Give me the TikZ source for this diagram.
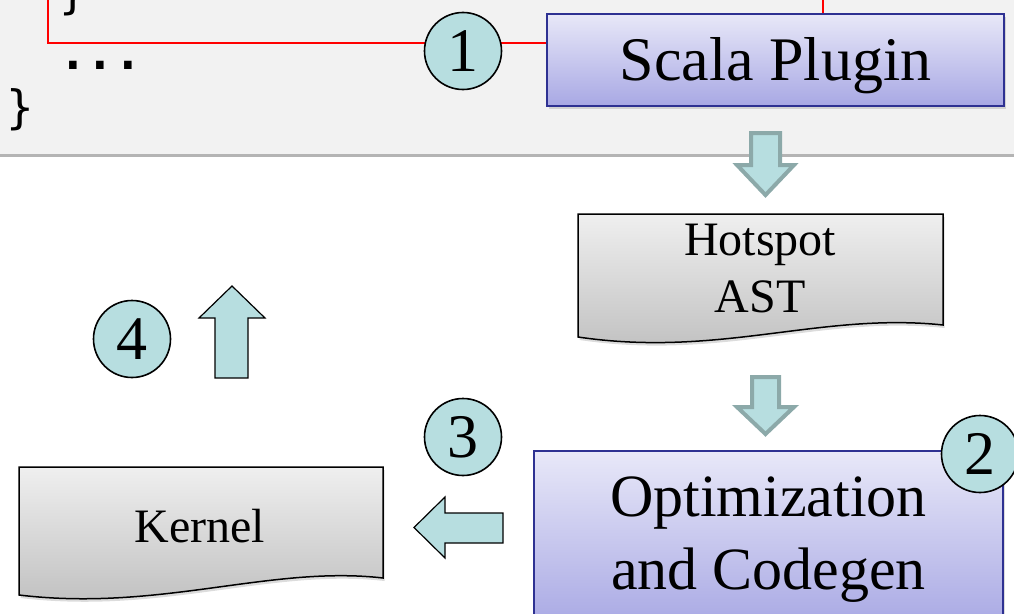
\documentclass[tikz,border=0pt]{standalone}
\usepackage{fontspec}
\setmainfont{Liberation Serif}
\newfontfamily\codefont{DejaVu Sans Mono}
\usetikzlibrary{shadows}

\definecolor{bandgray}{HTML}{F2F2F2}
\definecolor{rulegray}{HTML}{B4B4B4}
\definecolor{tealfill}{HTML}{B7DEE0}
\definecolor{tealedge}{HTML}{8CA9A9}
\definecolor{boxedge}{HTML}{2E3192}
\definecolor{boxtop}{HTML}{E8E8F8}
\definecolor{boxbottom}{HTML}{A8A8E4}
\definecolor{doctop}{HTML}{EFEFEF}
\definecolor{docbottom}{HTML}{BEBEBE}

\begin{document}
\begin{tikzpicture}[x=1pt,y=-1pt,
  softshadow/.style={drop shadow={opacity=0.28, shadow xshift=1.5pt, shadow yshift=-3pt}},
  stage/.style={draw=boxedge, line width=2.4pt, top color=boxtop, bottom color=boxbottom,
    inner sep=0pt, align=center, softshadow},
  badge/.style={circle, draw=black, line width=1.6pt, fill=tealfill, minimum size=77pt,
    inner sep=0pt, font=\fontsize{62}{62}\selectfont},
  docpage/.style={draw=black, line width=1.5pt, top color=doctop, bottom color=docbottom, softshadow},
  doclabel/.style={inner sep=0pt, align=center, font=\fontsize{48}{57}\selectfont},
  flowdown/.style={draw=tealedge, line width=4pt, fill=tealfill, line join=miter},
  flowarrow/.style={draw=black, line width=1.2pt, fill=tealfill, line join=miter},
  codeline/.style={draw=red, line width=1.4pt},
  codetext/.style={font=\codefont\fontsize{46}{46}\selectfont, anchor=base west, inner sep=0pt},
]
\useasboundingbox (0,0) rectangle (1014,613);
\clip (0,0) rectangle (1014,613);

% source-code panel
\fill[bandgray] (0,0) rectangle (1014,155);
\draw[rulegray, line width=3pt] (0,155.5) -- (1014,155.5);

\node[codetext] (closeinner) at (59,9) {\}};
\node[codetext] (ellipsis) at (59,69) {\bfseries ...};
\node[codetext] (closeouter) at (6,123) {\}};

% highlighted region and its link to the plugin
\coordinate (regiontop) at (48,-3);
\coordinate (regionright) at (823,-3);
\coordinate (tap) at (0,43);
\node[stage, minimum width=457pt, minimum height=92pt,
  font=\fontsize{62}{62}\selectfont, text height=42pt, text depth=2pt]
  (plugin) at (775.5,60) {Scala Plugin};
\draw[codeline] (regiontop) |- (plugin.west |- tap);
\draw[codeline] (regionright) -- (regionright |- plugin.north);
\node[badge] (one) at (463,51) {1};

% plugin -> hotspot AST
\draw[flowdown] (751,133) -- (780,133) -- (780,165) -- (794,165) -- (765.5,195)
  -- (737,165) -- (751,165) -- cycle;

\path[docpage] (578,214) -- (943,214) -- (943,325)
  .. controls (820,312) and (720,358) .. (578,337) -- cycle;
\node[doclabel] (hotspot) at (760,269) {Hotspot\\AST};

% hotspot AST -> optimization
\draw[flowdown] (752,377) -- (779,377) -- (779,407) -- (794,407) -- (765.5,434)
  -- (737,407) -- (752,407) -- cycle;

\node[stage, minimum width=469pt, minimum height=177pt,
  font=\fontsize{60}{73}\selectfont]
  (codegen) at (768.5,539.5) {Optimization\\and Codegen};
\node[badge] (two) at (980,454) {2};

% optimization -> kernel
\node[badge] (three) at (463,437) {3};
\draw[flowarrow] (503,513) -- (445,513) -- (445,497) -- (414,527.5) -- (445,558)
  -- (445,543) -- (503,543) -- cycle;

\path[docpage] (19,467) -- (383,467) -- (383,578)
  .. controls (270,565) and (160,612) .. (19,595) -- cycle;
\node[doclabel, anchor=base] (kernel) at (200,542) {Kernel};

% kernel handed back
\node[badge] (four) at (132,339) {4};
\draw[flowarrow] (215,378) -- (215,318) -- (199,318) -- (232,286) -- (265,318)
  -- (248,318) -- (248,378) -- cycle;
\end{tikzpicture}
\end{document}
